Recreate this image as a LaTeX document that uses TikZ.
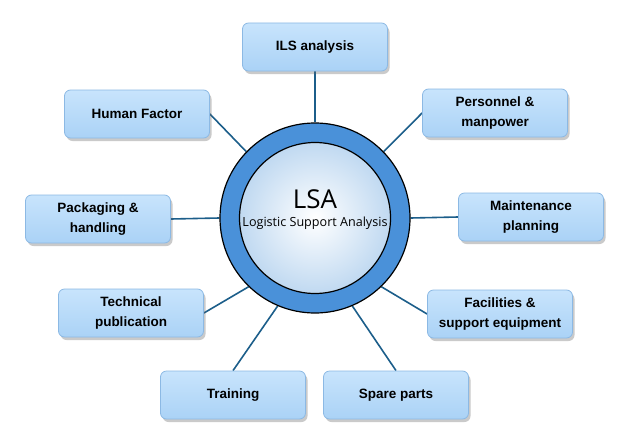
\documentclass[tikz,border=0pt]{standalone}
\usepackage{fontspec}
\setmainfont{Liberation Sans}
\newfontfamily\lsafont{Open Sans}
\usetikzlibrary{shadows,backgrounds}
\definecolor{boxtop}{RGB}{200,228,252}
\definecolor{boxbot}{RGB}{170,210,246}
\definecolor{boxline}{RGB}{140,185,228}
\definecolor{ringblue}{RGB}{74,145,217}
\definecolor{ballblue}{RGB}{192,217,241}
\definecolor{linkblue}{RGB}{28,94,138}
\tikzset{
  itembox/.style={draw=boxline, line width=0.8pt, rounded corners=6pt,
    top color=boxtop, bottom color=boxbot,
    minimum width=145pt, minimum height=48pt, align=center, inner sep=2pt,
    font=\fontsize{13.5}{19.5}\selectfont\bfseries,
    drop shadow={shadow xshift=2pt, shadow yshift=-3pt, opacity=0.35, fill=black!60}},
  link/.style={draw=linkblue, line width=1.6pt}
}
\begin{document}
\begin{tikzpicture}[x=1pt,y=-1pt]
\useasboundingbox (0,0) rectangle (636,444);
\node[circle, minimum size=190pt, inner sep=0pt, fill=ringblue, draw=black, line width=1.2pt] (ring) at (315,218) {};
\node[circle, minimum size=151pt, inner sep=0pt, inner color=white, outer color=ballblue, draw=black, line width=1.2pt] (ball) at (315,218) {};
\node[inner sep=0pt, font=\lsafont\fontsize{26}{28}\selectfont] (lsa) at (315,199) {LSA};
\node[inner sep=0pt, font=\lsafont\fontsize{11}{13}\selectfont] (lsafull) at (315,223) {\resizebox{145pt}{!}{Logistic Support Analysis}};

\node[itembox] (ils) at (315,47) {ILS analysis};
\node[itembox] (hf) at (137,114) {Human Factor};
\node[itembox] (pers) at (495,113) {Personnel \&\\manpower};
\node[itembox] (pack) at (98,219) {Packaging \&\\handling};
\node[itembox] (maint) at (531,217) {Maintenance\\planning};
\node[itembox] (tech) at (131,313) {Technical\\publication};
\node[itembox] (fac) at (500,314) {Facilities \&\\support equipment};
\node[itembox] (train) at (233,395) {Training};
\node[itembox] (spare) at (396,395) {Spare parts};

\begin{scope}[on background layer]
\draw[link] (ils.south) -- (ring.90);
\draw[link] (hf.east) -- (ring.136);
\draw[link] (pers.west) -- (ring.44);
\draw[link] (pack.east) -- (ring.180);
\draw[link] (maint.west) -- (ring.0);
\draw[link] (tech.east) -- (ring.226);
\draw[link] (fac.west) -- (ring.314);
\draw[link] (train.north) -- (ring.247);
\draw[link] (spare.north) -- (ring.293);
\end{scope}
\end{tikzpicture}
\end{document}
